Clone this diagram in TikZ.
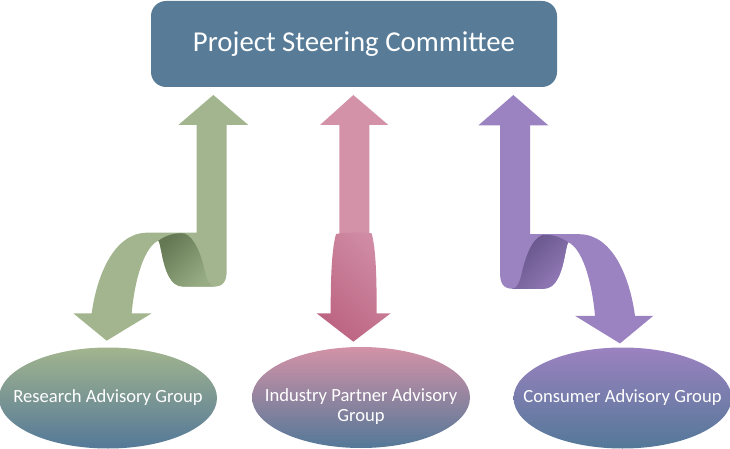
\documentclass[tikz,border=0pt]{standalone}
\usepackage{fontspec}
\setmainfont{Carlito}
\usetikzlibrary{shapes.geometric}
\definecolor{boxblue}{RGB}{88,124,152}
\definecolor{ellblue}{RGB}{84,120,152}
\definecolor{grn}{RGB}{162,181,142}
\definecolor{grndark}{RGB}{100,120,84}
\definecolor{grnmid}{RGB}{152,172,132}
\definecolor{pnk}{RGB}{211,146,167}
\definecolor{pnkdark}{RGB}{188,100,130}
\definecolor{pnkmid}{RGB}{208,140,164}
\definecolor{prp}{RGB}{155,130,192}
\definecolor{prpdark}{RGB}{100,82,136}
\definecolor{prpmid}{RGB}{146,122,182}
\begin{document}
\begin{tikzpicture}[x=1pt,y=-1pt,
  groupnode/.style={ellipse, minimum width=218pt, minimum height=101pt, inner sep=0pt, bottom color=ellblue},
  grouptext/.style={text=white, font=\fontsize{18.6}{20}\selectfont, align=center, inner sep=0pt},
  titlebox/.style={rectangle, rounded corners=15pt, fill=boxblue, minimum width=406pt, minimum height=86pt, text=white, font=\fontsize{28.8}{34}\selectfont},
]
\useasboundingbox (0,0) rectangle (730,449);

% title
\node[titlebox] (psc) at (354,44) {Project Steering Committee};

% ellipses
\node[groupnode, top color=grn] (rag) at (108,398) {};
\node[grouptext] (ragtext) at (rag.center) {Research Advisory Group};
\node[groupnode, top color=pnk] (ipag) at (361,397.5) {};
\node[grouptext] (ipagtext) at (361,407) {Industry Partner Advisory\\Group};
\node[groupnode, top color=prp] (cag) at (622.5,398) {};
\node[grouptext] (cagtext) at (cag.center) {Consumer Advisory Group};

% green ribbon arrow
\begin{scope}[shift={(60,90)}, scale=1/3]
  \fill[grn] (460,15) -- (565,105) -- (500,105) -- (500,540)
    .. controls (500,575) and (490,590) .. (460,590) -- (370,590)
    .. controls (330,590) and (315,540) .. (305,490)
    .. controls (300,465) and (298,455) .. (295,452)
    .. controls (255,470) and (225,560) .. (215,670)
    -- (275,670) -- (140,752) -- (40,670) -- (95,670)
    .. controls (110,560) and (160,430) .. (260,428)
    -- (410,428) -- (410,105) -- (355,105) -- cycle;
  \shade[left color=grndark, right color=grnmid, shading angle=45]
    (295,452) .. controls (320,435) and (345,428) .. (372,430)
    .. controls (405,440) and (425,500) .. (435,545)
    .. controls (442,575) and (450,588) .. (462,590) -- (370,590)
    .. controls (330,590) and (315,540) .. (305,490)
    .. controls (300,465) and (298,455) .. (295,452) -- cycle;
\end{scope}

% pink arrow
\begin{scope}[shift={(300,90)}, scale=1/3]
  \fill[pnk] (160,15) -- (265,105) -- (208,105) -- (208,440) -- (118,440) -- (118,105) -- (60,105) -- cycle;
  \shade[left color=pnkdark, right color=pnkmid, shading angle=135]
    (108,432) .. controls (140,426) and (185,426) .. (215,430)
    .. controls (228,480) and (230,560) .. (230,670)
    -- (272,670) -- (160,755) -- (50,670) -- (92,670)
    .. controls (92,560) and (95,480) .. (108,432) -- cycle;
\end{scope}

% purple ribbon arrow
\begin{scope}[shift={(460,90)}, xscale=1/3, yscale=0.337]
  \fill[prp] (160,15) -- (55,105) -- (120,105) -- (120,540)
    .. controls (120,575) and (130,590) .. (160,590) -- (250,590)
    .. controls (290,590) and (305,540) .. (315,490)
    .. controls (320,465) and (322,455) .. (325,452)
    .. controls (365,470) and (395,560) .. (405,670)
    -- (345,670) -- (480,752) -- (580,670) -- (525,670)
    .. controls (510,560) and (460,430) .. (360,428)
    -- (210,428) -- (210,105) -- (265,105) -- cycle;
  \shade[left color=prpdark, right color=prpmid, shading angle=45]
    (325,452) .. controls (300,435) and (275,428) .. (248,430)
    .. controls (215,440) and (195,500) .. (185,545)
    .. controls (178,575) and (170,588) .. (158,590) -- (250,590)
    .. controls (290,590) and (305,540) .. (315,490)
    .. controls (320,465) and (322,455) .. (325,452) -- cycle;
\end{scope}
\end{tikzpicture}
\end{document}
